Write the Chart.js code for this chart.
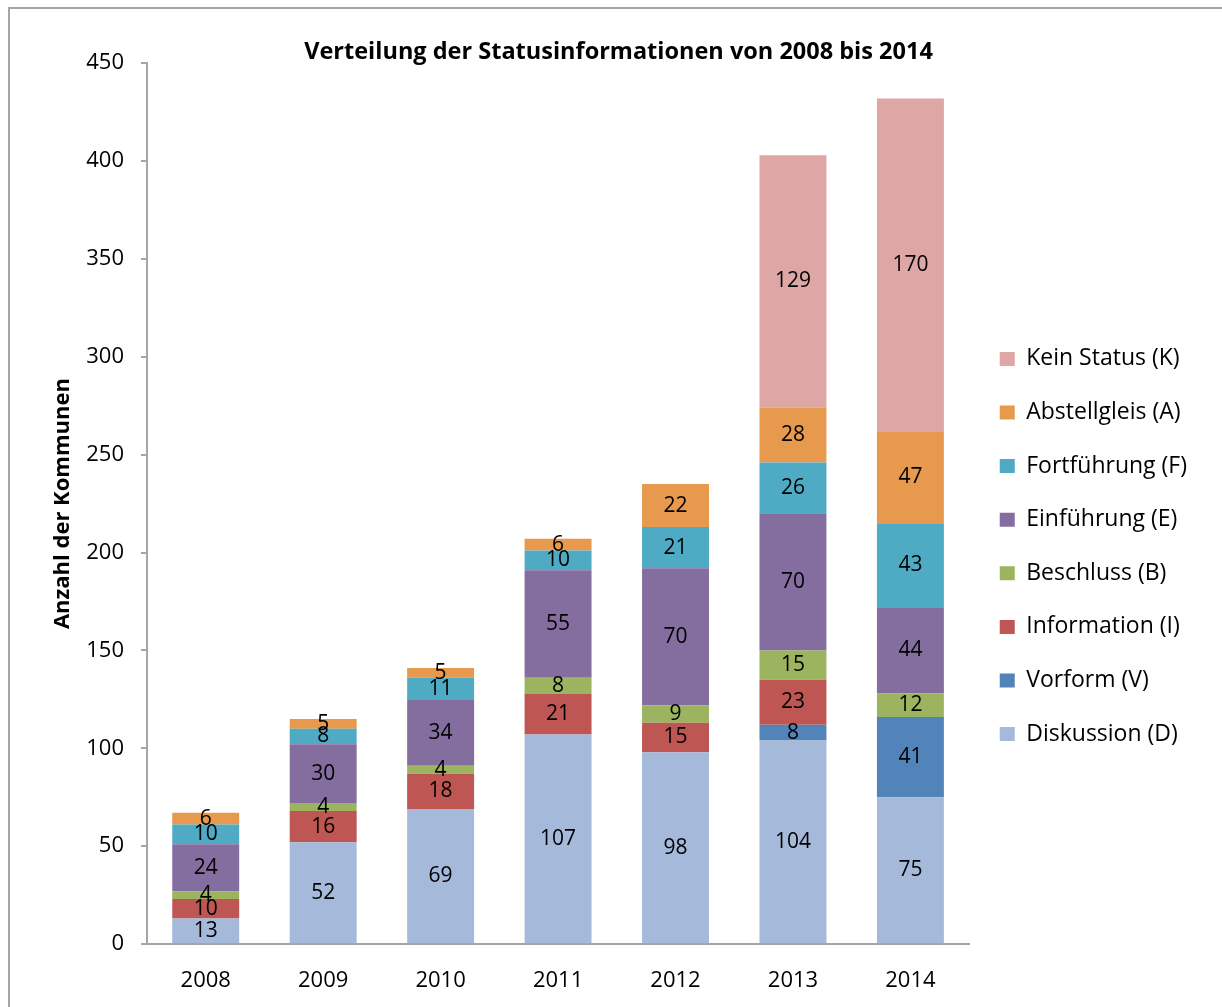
<!DOCTYPE html>
<html>
<head>
<meta charset="utf-8">
<script src="https://cdn.jsdelivr.net/npm/chart.js@4/dist/chart.umd.min.js"></script>
<style>
  html, body { margin: 0; padding: 0; background: #fff; overflow: hidden; }
  #wrap { position: relative; width: 1222px; height: 1007px; }
  #frame { position: absolute; left: 8px; top: 7px; width: 1400px; height: 1200px;
           border-left: 2px solid #a6a6a6; border-top: 2px solid #a6a6a6; pointer-events: none; }
  canvas { position: absolute; left: 0; top: 0; }
</style>
</head>
<body>
<div id="wrap">
  <canvas id="c" width="1222" height="1007"></canvas>
  <div id="frame"></div>
</div>
<script>
const categories = ['2008', '2009', '2010', '2011', '2012', '2013', '2014'];
const diskussion   = [13, 52, 69, 107, 98, 104, 75];
const vorform      = [0, 0, 0, 0, 0, 8, 41];
const information  = [10, 16, 18, 21, 15, 23, 0];
const beschluss    = [4, 4, 4, 8, 9, 15, 12];
const einfuehrung  = [24, 30, 34, 55, 70, 70, 44];
const fortfuehrung = [10, 8, 11, 10, 21, 26, 43];
const abstellgleis = [6, 5, 5, 6, 22, 28, 47];
const keinStatus   = [0, 0, 0, 0, 0, 129, 170];
const yTicks = [0, 50, 100, 150, 200, 250, 300, 350, 400, 450];

const FONT = "'Open Sans', 'Noto Sans', sans-serif";

const series = [
  { label: 'Diskussion (D)',   data: diskussion,   color: '#A5B9DA' },
  { label: 'Vorform (V)',      data: vorform,      color: '#5283B9' },
  { label: 'Information (I)',  data: information,  color: '#BE5653' },
  { label: 'Beschluss (B)',    data: beschluss,    color: '#9CB45F' },
  { label: 'Einführung (E)',   data: einfuehrung,  color: '#846EA0' },
  { label: 'Fortführung (F)',  data: fortfuehrung, color: '#4FAAC3' },
  { label: 'Abstellgleis (A)', data: abstellgleis, color: '#E7994E' },
  { label: 'Kein Status (K)',  data: keinStatus,   color: '#DEA6A4' }
];

const valueLabels = {
  id: 'valueLabels',
  afterDatasetsDraw(chart) {
    const ctx = chart.ctx;
    ctx.save();
    ctx.font = '21px ' + FONT;
    ctx.fillStyle = '#000';
    ctx.textAlign = 'center';
    ctx.textBaseline = 'middle';
    chart.data.datasets.forEach((ds, di) => {
      const meta = chart.getDatasetMeta(di);
      meta.data.forEach((el, i) => {
        const v = ds.data[i];
        if (!v) return;
        const p = el.getCenterPoint();
        ctx.fillText(String(v), p.x, p.y);
      });
    });
    ctx.restore();
  }
};

new Chart(document.getElementById('c'), {
  type: 'bar',
  data: {
    labels: categories,
    datasets: series.map(s => ({
      label: s.label,
      data: s.data,
      backgroundColor: s.color,
      borderWidth: 0,
      barPercentage: 0.57,
      categoryPercentage: 1.0
    }))
  },
  options: {
    responsive: false,
    animation: false,
    devicePixelRatio: 1,
    layout: { padding: { left: 40, right: 25, top: 20, bottom: 0 } },
    plugins: {
      title: {
        display: true,
        text: 'Verteilung der Statusinformationen von 2008 bis 2014',
        color: '#000',
        font: { family: FONT, size: 23.5, weight: 'bold', lineHeight: 0.9 },
        padding: { top: 22, bottom: 0 }
      },
      legend: {
        display: true,
        position: 'right',
        reverse: true,
        title: { display: true, text: ' ', font: { size: 10 }, padding: { top: 54, bottom: 0 } },
        labels: {
          color: '#000',
          font: { family: FONT, size: 23 },
          boxWidth: 15,
          boxHeight: 14,
          padding: 30.6
        }
      },
      tooltip: { enabled: false }
    },
    scales: {
      x: {
        stacked: true,
        afterFit(scale) { scale.height = 63; },
        grid: { display: false, drawTicks: false },
        border: { display: true, color: '#A6A6A6', width: 2 },
        ticks: { color: '#000', font: { family: FONT, size: 22 }, padding: 24 }
      },
      y: {
        stacked: true,
        min: 0,
        max: 450,
        afterBuildTicks(scale) { scale.ticks = yTicks.map(v => ({ value: v })); },
        afterFit(scale) { scale.width = 107; },
        grid: { display: true, drawOnChartArea: false, drawTicks: true, tickLength: 6, color: '#A6A6A6', lineWidth: 2 },
        border: { display: true, color: '#A6A6A6', width: 2 },
        ticks: { color: '#000', font: { family: FONT, size: 22 }, padding: 17 },
        title: {
          display: true,
          text: 'Anzahl der Kommunen',
          color: '#000',
          font: { family: FONT, size: 22, weight: 'bold' },
          padding: { top: 10, bottom: 0 }
        }
      }
    }
  },
  plugins: [valueLabels]
});
</script>
</body>
</html>
